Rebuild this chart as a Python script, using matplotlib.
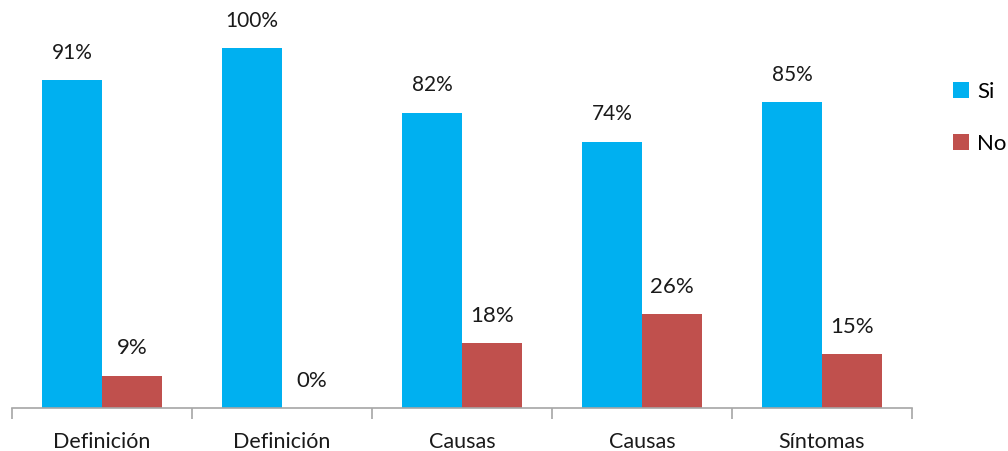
import matplotlib
matplotlib.use("Agg")
import matplotlib.pyplot as plt
import numpy as np

categories = ["Definición", "Definición", "Causas", "Causas", "Síntomas"]
si_values = [91, 100, 82, 74, 85]
no_values = [9, 0, 18, 26, 15]
series_names = ["Si", "No"]

plt.rcParams["font.family"] = ["Lato", "DejaVu Sans"]

W, H = 1008, 451
fig = plt.figure(figsize=(W / 100, H / 100), dpi=100)
ax = fig.add_axes([12 / W, (H - 408) / H, 900 / W, 398 / H])

n = len(categories)
centers = np.arange(n) + 0.5
bw = 1 / 3
si_color = "#00B0F0"
no_color = "#C0504D"

ax.bar(centers - bw / 2, si_values, width=bw, color=si_color, label=series_names[0])
ax.bar(centers + bw / 2, no_values, width=bw, color=no_color, label=series_names[1])

for x, v in zip(centers - bw / 2, si_values):
    ax.text(x, v + 7.6, f"{v}%", ha="center", va="center", fontsize=15, color="#1a1a1a")
for x, v in zip(centers + bw / 2, no_values):
    ax.text(x, v + 7.6, f"{v}%", ha="center", va="center", fontsize=16, color="#1a1a1a")

ax.set_xlim(0, n)
ax.set_ylim(0, 398 / 3.6)

for s in ["left", "right", "top"]:
    ax.spines[s].set_visible(False)
ax.spines["bottom"].set_color("#A6A6A6")
ax.spines["bottom"].set_linewidth(1.2)
ax.set_yticks([])

ax.set_xticks(centers)
ax.set_xticklabels(categories, fontsize=15.5, color="#1a1a1a")
ax.tick_params(axis="x", which="major", length=0, pad=17)
ax.set_xticks(np.arange(n + 1), minor=True)
ax.tick_params(axis="x", which="minor", length=8, width=1.2, color="#A6A6A6", direction="out")

leg = fig.legend(loc="upper left", bbox_to_anchor=(935 / W, 1 - 64 / H), frameon=False,
                 fontsize=16, handlelength=0.75, handleheight=0.75, handletextpad=0.35,
                 labelspacing=1.45, borderpad=0.3)

fig.savefig("out.png", dpi=100)
